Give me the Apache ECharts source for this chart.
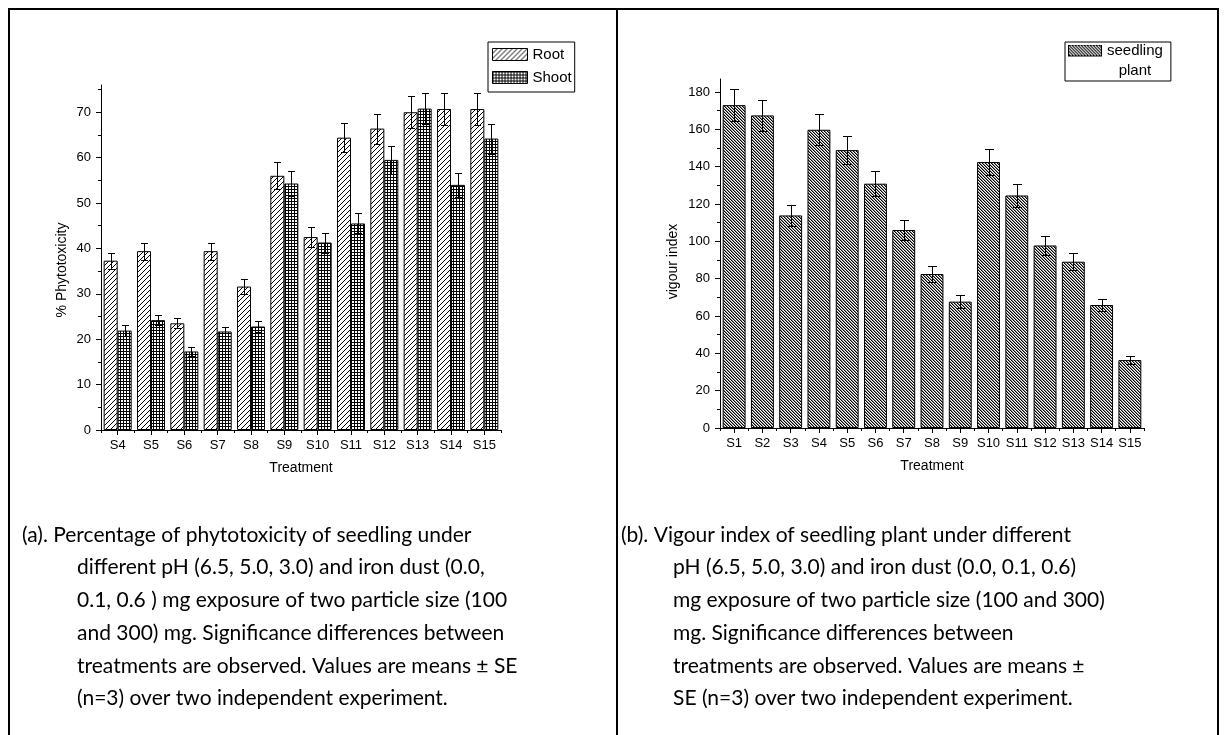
<!DOCTYPE html>
<html><head><meta charset="utf-8">
<script src="https://cdn.jsdelivr.net/npm/echarts@6/dist/echarts.min.js"></script>
<style>html,body{margin:0;padding:0;background:#fff}#c{width:1225px;height:735px}</style>
</head><body><div id="c"></div>
<script>
// ---- data (a) ----
const catsA = ['S4','S5','S6','S7','S8','S9','S10','S11','S12','S13','S14','S15'];
const rootVals = [37.3, 39.4, 23.5, 39.4, 31.6, 56.0, 42.5, 64.4, 66.4, 70.0, 70.7, 70.7];
const rootErr  = [1.8, 1.9, 1.1, 1.9, 1.6, 3.0, 2.2, 3.2, 3.3, 3.5, 3.5, 3.5];
const shootVals = [21.9, 24.2, 17.3, 21.7, 22.8, 54.3, 41.3, 45.5, 59.5, 70.8, 54.0, 64.2];
const shootErr  = [1.2, 1.1, 1.0, 1.1, 1.3, 2.7, 2.2, 2.2, 3.0, 3.5, 2.7, 3.3];
const ticksA = [0, 10, 20, 30, 40, 50, 60, 70];
const minorTicksA = [5, 15, 25, 35, 45, 55, 65, 75];
// ---- data (b) ----
const catsB = ['S1','S2','S3','S4','S5','S6','S7','S8','S9','S10','S11','S12','S13','S14','S15'];
const vigourVals = [173.0, 167.5, 113.9, 159.8, 148.9, 130.9, 106.1, 82.5, 67.7, 142.5, 124.6, 97.8, 89.1, 65.9, 36.4];
const vigourErr  = [8.4, 8.4, 5.6, 8.2, 7.3, 6.6, 5.1, 4.3, 3.4, 7.1, 6.3, 5.1, 4.7, 3.2, 2.0];
const ticksB = [0, 20, 40, 60, 80, 100, 120, 140, 160, 180];
const minorTicksB = [10, 30, 50, 70, 90, 110, 130, 150, 170];
// ---- captions ----
const captionA = [
  '(a). Percentage of phytotoxicity of seedling under',
  'different pH (6.5, 5.0, 3.0) and iron dust (0.0,',
  '0.1, 0.6 ) mg exposure of two particle size (100',
  'and 300) mg. Significance differences between',
  'treatments are observed. Values are means \u00b1 SE',
  '(n=3) over two independent experiment.'
];
const captionB = [
  '(b). Vigour index of seedling plant under different',
  'pH (6.5, 5.0, 3.0) and iron dust (0.0, 0.1, 0.6)',
  'mg exposure of two particle size (100 and 300)',
  'mg. Significance differences between',
  'treatments are observed. Values are means \u00b1',
  'SE (n=3) over two independent experiment.'
];

const FF = "'Liberation Sans', Arial, sans-serif";
const CAPF = "Lato, 'Open Sans', sans-serif";

function makePattern(size, fn) {
  const c = document.createElement('canvas');
  c.width = size; c.height = size;
  const ctx = c.getContext('2d');
  ctx.fillStyle = '#fff'; ctx.fillRect(0, 0, size, size);
  for (let x = 0; x < size; x++) for (let y = 0; y < size; y++) {
    const col = fn(x, y, size);
    if (col) { ctx.fillStyle = col; ctx.fillRect(x, y, 1, 1); }
  }
  return c;
}
const rootPat = makePattern(5, (x, y, s) => (x + y) % s === s - 1 ? '#000' : null);
const shootPat = makePattern(3, (x, y) => (x === 0 || y === 0) ? '#000' : null);
const seedPat = makePattern(3, (x, y, s) => {
  const d = (((x - y) % s) + s) % s;
  return d === 0 ? '#000' : (d === 1 ? '#8a8a8a' : null);
});

// legend swatch for (b): swatch on the top of a taller transparent box so text can hang below
function makeSwatchIcon(pat, w, h, sh) {
  const c = document.createElement('canvas');
  c.width = w; c.height = h;
  const ctx = c.getContext('2d');
  ctx.fillStyle = ctx.createPattern(pat, 'repeat');
  ctx.fillRect(0, 0, w, sh);
  ctx.strokeStyle = '#000'; ctx.lineWidth = 1;
  ctx.strokeRect(0.5, 0.5, w - 1, sh - 1);
  return 'image://' + c.toDataURL();
}
const seedIcon = makeSwatchIcon(seedPat, 34, 32, 12);

function errSeries(axisIdx, vals, errs, offset, cap) {
  return {
    type: 'custom', xAxisIndex: axisIdx, yAxisIndex: axisIdx, z: 5, silent: true,
    data: vals.map((v, i) => [i, v, errs[i]]),
    encode: { x: 0, y: 1 },
    renderItem(params, api) {
      const i = api.value(0), v = api.value(1), e = api.value(2);
      const band = api.size([1, 0])[0];
      const x = Math.round(api.coord([i, v])[0] + offset * band) + 0.5;
      const yt = Math.round(api.coord([i, v + e])[1]) + 0.5;
      const yb = Math.round(api.coord([i, v - e])[1]) + 0.5;
      const st = { stroke: '#000', lineWidth: 1 };
      return { type: 'group', children: [
        { type: 'line', shape: { x1: x, y1: yt, x2: x, y2: yb }, style: st },
        { type: 'line', shape: { x1: x - cap, y1: yt, x2: x + cap, y2: yt }, style: st },
        { type: 'line', shape: { x1: x - cap, y1: yb, x2: x + cap, y2: yb }, style: st }
      ] };
    }
  };
}

const axisLineStyle = { show: true, lineStyle: { color: '#000', width: 1 } };
const labelStyle = { fontSize: 13, color: '#000', fontFamily: FF };
const nameStyle = { fontSize: 14, color: '#000', fontFamily: FF };

function frameLine(x1, y1, x2, y2) {
  return { type: 'line', silent: true, shape: { x1, y1, x2, y2 }, style: { stroke: '#000', lineWidth: 2 } };
}
const graphics = [
  frameLine(8, 9, 1219, 9),
  frameLine(9, 8, 9, 735),
  frameLine(617, 8, 617, 735),
  frameLine(1218, 8, 1218, 735)
];
captionA.forEach((t, i) => graphics.push({ type: 'text', silent: true, x: i === 0 ? 22 : 77, y: 535 + i * 32.7,
  style: { text: t, fontSize: 21, fontFamily: CAPF, fill: '#000', verticalAlign: 'middle' } }));
captionB.forEach((t, i) => graphics.push({ type: 'text', silent: true, x: i === 0 ? 621 : 673, y: 535 + i * 32.7,
  style: { text: t, fontSize: 21, fontFamily: CAPF, fill: '#000', verticalAlign: 'middle' } }));

const option = {
  animation: false,
  backgroundColor: '#fff',
  grid: [
    { left: 101, top: 85, width: 400, height: 345 },
    { left: 720, top: 79, width: 424, height: 349 }
  ],
  xAxis: [
    { gridIndex: 0, type: 'category', data: catsA, position: 'bottom', axisLine: axisLineStyle,
      axisTick: { show: true, alignWithLabel: true, length: 5, lineStyle: { color: '#000' } },
      axisLabel: Object.assign({ margin: 9, interval: 0 }, labelStyle),
      name: 'Treatment', nameLocation: 'middle', nameGap: 31, nameTextStyle: nameStyle },
    { gridIndex: 1, type: 'category', data: catsB, position: 'bottom', axisLine: axisLineStyle,
      axisTick: { show: true, alignWithLabel: true, length: 5, lineStyle: { color: '#000' } },
      axisLabel: Object.assign({ margin: 9, interval: 0 }, labelStyle),
      name: 'Treatment', nameLocation: 'middle', nameGap: 31, nameTextStyle: nameStyle },
    { gridIndex: 0, type: 'category', data: catsA, position: 'bottom', axisLine: { show: false },
      axisTick: { show: true, alignWithLabel: false, interval: 0, length: 3, lineStyle: { color: '#000' } },
      axisLabel: { show: false } },
    { gridIndex: 1, type: 'category', data: catsB, position: 'bottom', axisLine: { show: false },
      axisTick: { show: true, alignWithLabel: false, interval: 0, length: 3, lineStyle: { color: '#000' } },
      axisLabel: { show: false } }
  ],
  yAxis: [
    { gridIndex: 0, type: 'value', min: 0, max: 76, position: 'left', axisLine: axisLineStyle,
      axisTick: { show: true, length: 5, lineStyle: { color: '#000' }, customValues: ticksA },
      axisLabel: Object.assign({ margin: 10, customValues: ticksA }, labelStyle),
      splitLine: { show: false },
      name: '% Phytotoxicity', nameLocation: 'middle', nameGap: 32,
      nameTextStyle: Object.assign({ padding: [0, 25, 0, 0] }, nameStyle) },
    { gridIndex: 1, type: 'value', min: 0, max: 187, position: 'left', axisLine: axisLineStyle,
      axisTick: { show: true, length: 5, lineStyle: { color: '#000' }, customValues: ticksB },
      axisLabel: Object.assign({ margin: 10, customValues: ticksB }, labelStyle),
      splitLine: { show: false },
      name: 'vigour index', nameLocation: 'middle', nameGap: 40,
      nameTextStyle: Object.assign({ padding: [0, 16, 0, 0] }, nameStyle) },
    { gridIndex: 0, type: 'value', min: 0, max: 76, position: 'left', axisLine: { show: false },
      axisTick: { show: true, length: 3, lineStyle: { color: '#000' }, customValues: minorTicksA },
      axisLabel: { show: false }, splitLine: { show: false } },
    { gridIndex: 1, type: 'value', min: 0, max: 187, position: 'left', axisLine: { show: false },
      axisTick: { show: true, length: 3, lineStyle: { color: '#000' }, customValues: minorTicksB },
      axisLabel: { show: false }, splitLine: { show: false } }
  ],
  legend: [
    { left: 488, top: 42, orient: 'vertical', data: ['Root', 'Shoot'], icon: 'rect',
      itemWidth: 35, itemHeight: 12, itemGap: 8, padding: [5, 3, 7, 4],
      borderColor: '#000', borderWidth: 1, backgroundColor: '#fff', selectedMode: false,
      itemStyle: { borderWidth: 1, borderColor: '#000' },
      textStyle: { fontSize: 15, color: '#000', fontFamily: FF } },
    { left: 1065, top: 42, orient: 'vertical',
      data: [{ name: 'seedling plant', icon: seedIcon }],
      itemWidth: 34, itemHeight: 32, padding: [1, 8, 3, 3],
      borderColor: '#000', borderWidth: 1, backgroundColor: '#fff', selectedMode: false,
      formatter: '{a|seedling}\n{b|plant}',
      textStyle: { fontSize: 15, color: '#000', fontFamily: FF,
        rich: { a: { fontSize: 15, lineHeight: 20, fontFamily: FF, color: '#000' },
                b: { fontSize: 15, lineHeight: 20, fontFamily: FF, color: '#000', align: 'center' } } } }
  ],
  series: [
    { type: 'bar', name: 'Root', xAxisIndex: 0, yAxisIndex: 0, data: rootVals, barWidth: '42%', barGap: '0%',
      itemStyle: { color: { image: rootPat, repeat: 'repeat' }, borderColor: '#000', borderWidth: 1 },
      emphasis: { disabled: true } },
    { type: 'bar', name: 'Shoot', xAxisIndex: 0, yAxisIndex: 0, data: shootVals, barWidth: '42%', barGap: '0%',
      itemStyle: { color: { image: shootPat, repeat: 'repeat' }, borderColor: '#000', borderWidth: 1 },
      emphasis: { disabled: true } },
    { type: 'bar', name: 'seedling plant', xAxisIndex: 1, yAxisIndex: 1, data: vigourVals, barWidth: '81%',
      itemStyle: { color: { image: seedPat, repeat: 'repeat' }, borderColor: '#000', borderWidth: 1 },
      emphasis: { disabled: true } },
    errSeries(0, rootVals, rootErr, -0.21, 3.5),
    errSeries(0, shootVals, shootErr, 0.21, 3.5),
    errSeries(1, vigourVals, vigourErr, 0, 4.5)
  ],
  graphic: graphics
};
const chart = echarts.init(document.getElementById('c'), null, { renderer: 'canvas' });
chart.setOption(option);
</script></body></html>
